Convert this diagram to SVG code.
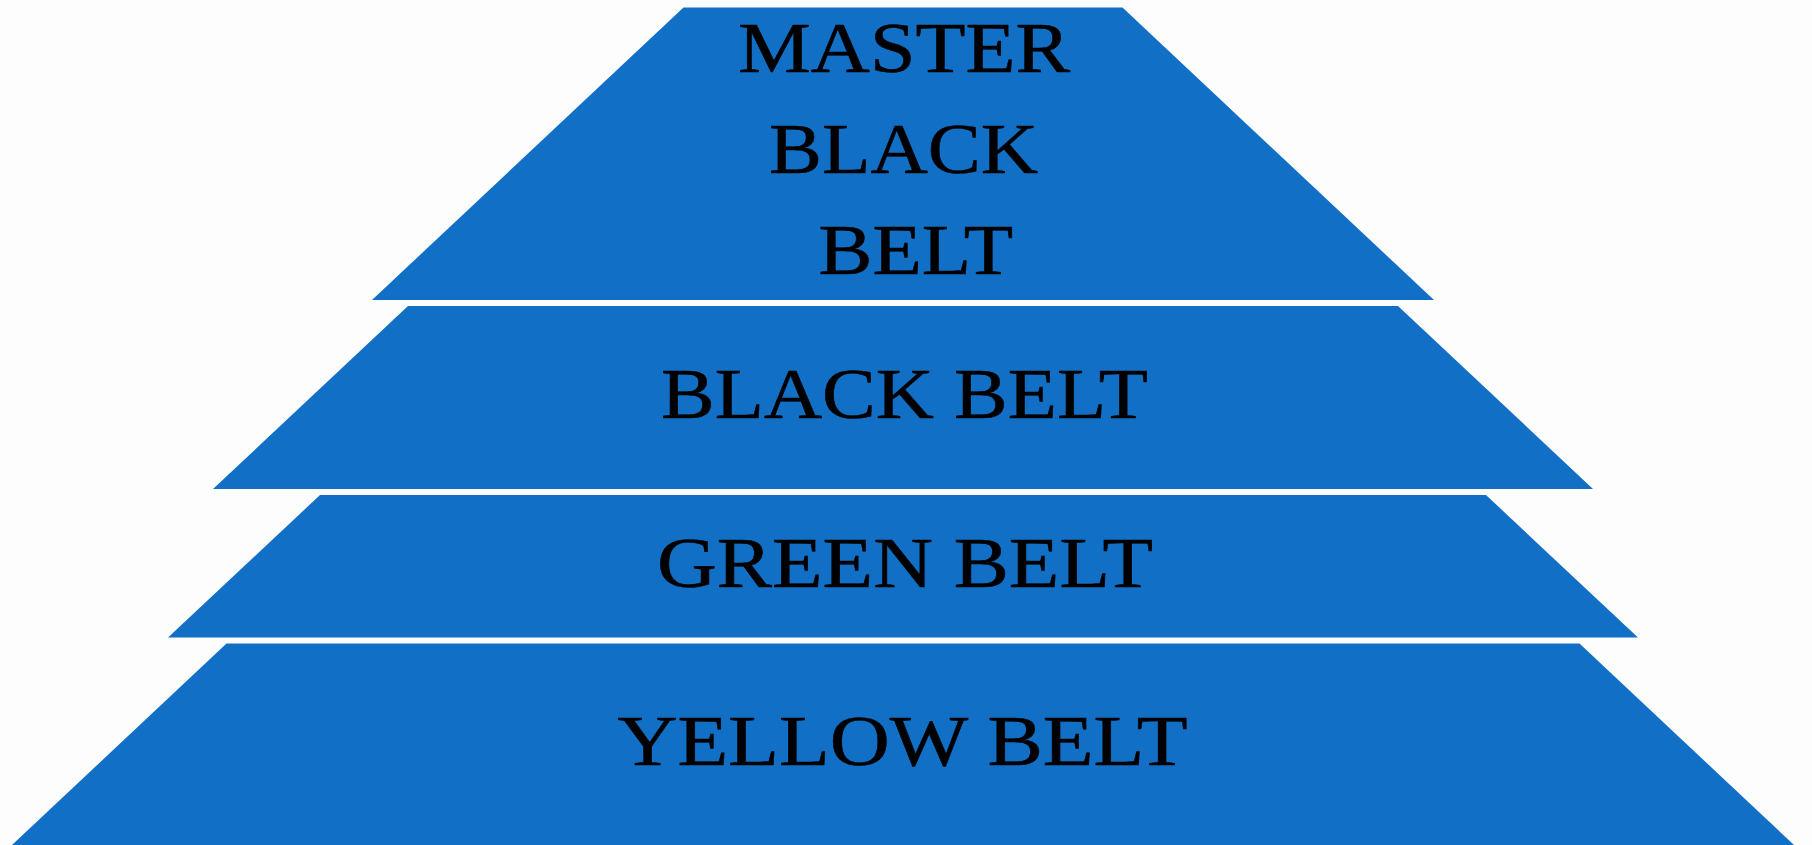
<svg xmlns="http://www.w3.org/2000/svg" width="1812" height="845" viewBox="0 0 1812 845">
<style>
.band{fill:#1170c6}
.lbl{font-family:"Liberation Serif","Times New Roman",serif;font-size:72px;fill:#000;stroke:#000;stroke-width:0.6px}
</style>
<rect x="0" y="0" width="1812" height="845" fill="#fdfdfd"/>
<g id="master-black-belt">
<polygon class="band" points="683.5,7.5 1122.5,7.5 1434,300 372,300"/>
<text class="lbl" x="738" y="72" textLength="332" lengthAdjust="spacingAndGlyphs">MASTER</text>
<text class="lbl" x="769" y="173" textLength="269" lengthAdjust="spacingAndGlyphs">BLACK</text>
<text class="lbl" x="818.5" y="274" textLength="194.5" lengthAdjust="spacingAndGlyphs">BELT</text>
</g>
<g id="black-belt">
<polygon class="band" points="408,306 1398,306 1593,489 213,489"/>
<text class="lbl" x="661" y="417.5" textLength="487" lengthAdjust="spacingAndGlyphs">BLACK BELT</text>
</g>
<g id="green-belt">
<polygon class="band" points="320,495 1486,495 1638,637.5 168,637.5"/>
<text class="lbl" x="657" y="586.5" textLength="496" lengthAdjust="spacingAndGlyphs">GREEN BELT</text>
</g>
<g id="yellow-belt">
<polygon class="band" points="226.5,643.5 1579.5,643.5 1794,845 12,845"/>
<text class="lbl" x="617.5" y="765" textLength="570" lengthAdjust="spacingAndGlyphs">YELLOW BELT</text>
</g>
<g id="connectors"/>
</svg>
